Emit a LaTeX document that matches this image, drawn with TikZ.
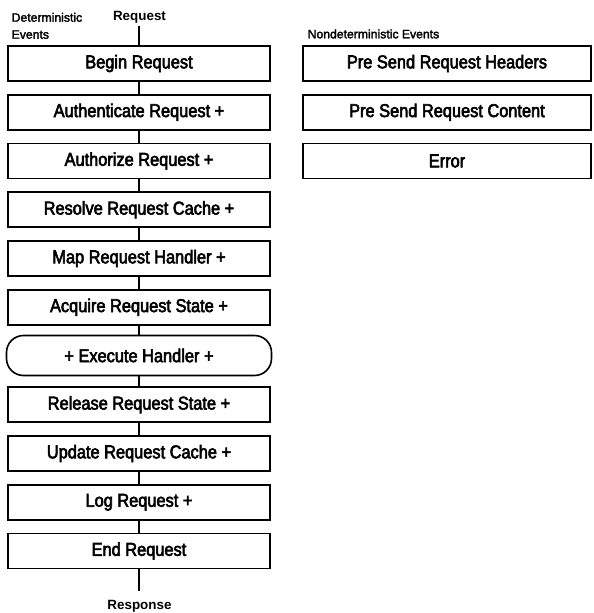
\documentclass[tikz,border=0pt]{standalone}
\usepackage{fontspec}
\setmainfont{Liberation Sans}
\newfontfamily\boxfont{Liberation Sans}[FakeStretch=0.88,FakeBold=3]
\newfontfamily\capfont{Liberation Sans}[FakeBold=2.5]
\begin{document}
\begin{tikzpicture}[x=1pt,y=-1pt,
  evbox/.style={draw=black,line width=1.6pt,fill=white,minimum width=262pt,
    minimum height=35pt,inner sep=0pt,font=\boxfont\fontsize{18.6}{20}\selectfont},
  ndbox/.style={evbox,minimum width=288pt},
  handlerbox/.style={evbox,minimum width=265pt,minimum height=40pt,rounded corners=17pt},
  link/.style={draw=black,line width=1.8pt},
  smalllabel/.style={inner sep=0pt,font=\capfont\fontsize{12.2}{17}\selectfont},
  endlabel/.style={inner sep=0pt,font=\bfseries\fontsize{13.4}{16}\selectfont}
]
\useasboundingbox (0,0) rectangle (594,613);

% pipeline of deterministic events
\node[evbox] (b1) at (139,63.5) {Begin Request};
\node[evbox] (b2) at (139,112.25) {Authenticate Request +};
\node[evbox] (b3) at (139,161) {Authorize Request +};
\node[evbox] (b4) at (139,209.75) {Resolve Request Cache +};
\node[evbox] (b5) at (139,258.5) {Map Request Handler +};
\node[evbox] (b6) at (139,307.25) {Acquire Request State +};
\node[handlerbox] (b7) at (139,355.5) {+ Execute Handler +};
\node[evbox] (b8) at (139,404.75) {Release Request State +};
\node[evbox] (b9) at (139,453.5) {Update Request Cache +};
\node[evbox] (b10) at (139,502.25) {Log Request +};
\node[evbox] (b11) at (139,551) {End Request};

% nondeterministic events
\node[ndbox] (n1) at (447,63.5) {Pre Send Request Headers};
\node[ndbox] (n2) at (447,112.25) {Pre Send Request Content};
\node[ndbox] (n3) at (447,161) {Error};

% captions
\node[smalllabel,anchor=base west] (det) at (11.5,21.7) {Deterministic};
\node[smalllabel,anchor=base west] (det2) at (11.5,38.7) {Events};
\node[smalllabel,anchor=base west] (nondet) at (307.5,38.3) {Nondeterministic Events};
\node[endlabel,anchor=base] (req) at (139.5,20) {Request};
\node[endlabel,anchor=base] (resp) at (139.5,609.5) {Response};
\coordinate (reqend) at (139,26);
\coordinate (respend) at (139,591);

% connectors
\draw[link] (reqend) -- (b1.north);
\foreach \a/\b in {b1/b2,b2/b3,b3/b4,b4/b5,b5/b6,b6/b7,b7/b8,b8/b9,b9/b10,b10/b11}
  \draw[link] (\a.south) -- (\b.north);
\draw[link] (b11.south) -- (respend);
\end{tikzpicture}
\end{document}
